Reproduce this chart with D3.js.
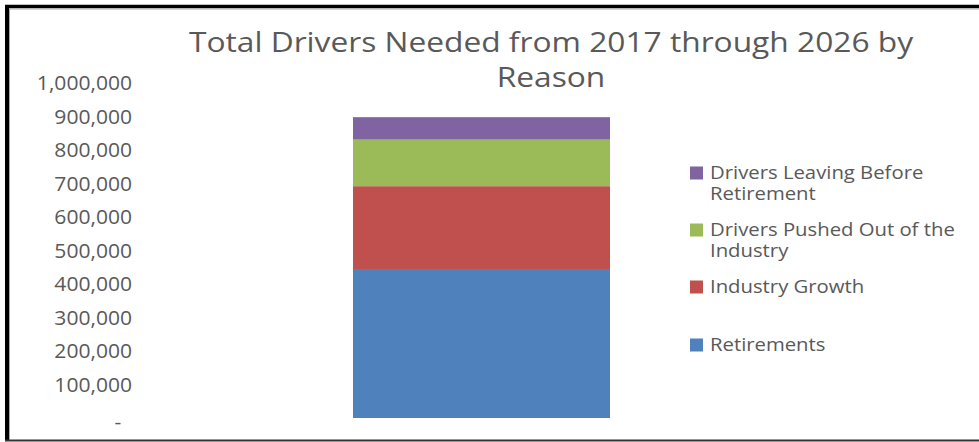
<!DOCTYPE html>
<html>
<head>
<meta charset="utf-8">
<script src="https://cdn.jsdelivr.net/npm/d3@7"></script>
<style>
  html, body { margin: 0; padding: 0; background: #fff; }
  svg { display: block; }
  text { font-family: "Open Sans", sans-serif; fill: #595959; }
</style>
</head>
<body>
<div id="chart"></div>
<script>
// Данные графика
const categories = ["2017-2026"];
const seriesNames = ["Retirements", "Industry Growth", "Drivers Pushed Out of the Industry", "Drivers Leaving Before Retirement"];
const seriesValues = [442000, 250000, 139000, 67000];
const seriesColors = ["#4f81bd", "#c0504d", "#9bbb59", "#8064a2"];
const yTicks = [0, 100000, 200000, 300000, 400000, 500000, 600000, 700000, 800000, 900000, 1000000];
const titleLines = ["Total Drivers Needed from 2017 through 2026 by", "Reason"];
// Подписи легенды, разбитые на строки
const legendLines = [
    ["Retirements"],
    ["Industry Growth"],
    ["Drivers Pushed Out of the", "Industry"],
    ["Drivers Leaving Before", "Retirement"]
];

const width = 979;
const height = 442;

const svg = d3.select("#chart").append("svg")
    .attr("width", width)
    .attr("height", height);

//Рамка
svg.append("rect").attr("x", 0).attr("y", 0).attr("width", width).attr("height", height).attr("fill", "#fff");
svg.append("line").attr("x1", 5).attr("x2", width).attr("y1", 6.5).attr("y2", 6.5)
    .attr("stroke", "#000").attr("stroke-width", 3.5);
svg.append("line").attr("x1", 5).attr("x2", width).attr("y1", 9).attr("y2", 9)
    .attr("stroke", "#aaa").attr("stroke-width", 1);
svg.append("line").attr("x1", 7).attr("x2", 7).attr("y1", 5).attr("y2", 441)
    .attr("stroke", "#000").attr("stroke-width", 4);
svg.append("line").attr("x1", 9.5).attr("x2", 9.5).attr("y1", 9).attr("y2", 440)
    .attr("stroke", "#aaa").attr("stroke-width", 1);
svg.append("line").attr("x1", 5).attr("x2", width).attr("y1", 440.5).attr("y2", 440.5)
    .attr("stroke", "#333").attr("stroke-width", 2);

//Оси
const y = d3.scaleLinear().domain([0, 1000000]).range([418, 83]);
const x = d3.scaleBand().domain(categories).range([353, 610]).padding(0);

const fmt = d3.format(",");
const yAxis = svg.append("g")
    .attr("transform", "translate(132,0)")
    .call(d3.axisLeft(y).tickValues(yTicks).tickSize(0).tickPadding(0)
        .tickFormat(d => d === 0 ? "-" : fmt(d)));
yAxis.select(".domain").remove();
//Картинка растянута по горизонтали, поэтому текст тоже растягиваем
yAxis.selectAll("text")
    .attr("font-size", 19.5)
    .attr("font-family", null)
    .attr("fill", "#595959")
    .attr("dy", "0.35em")
    .attr("transform", "scale(1.08,1)");
yAxis.selectAll(".tick").filter(d => d === 0).select("text")
    .attr("dx", -10).attr("dy", "0.55em");

//Стек
const stackData = [{ cat: categories[0] }];
seriesNames.forEach((s, i) => stackData[0][s] = seriesValues[i]);
const stacked = d3.stack().keys(seriesNames)(stackData);

svg.append("g").selectAll("rect")
    .data(stacked)
    .join("rect")
    .attr("x", d => x(d[0].data.cat))
    .attr("width", x.bandwidth())
    .attr("y", d => y(d[0][1]))
    .attr("height", d => y(d[0][0]) - y(d[0][1]))
    .attr("fill", (d, i) => seriesColors[i]);

//Заголовок
svg.append("g")
    .attr("transform", "translate(551,52) scale(1.175,1)")
    .append("text")
    .attr("text-anchor", "middle")
    .attr("font-size", 27)
    .selectAll("tspan")
    .data(titleLines)
    .join("tspan")
    .attr("x", 0)
    .attr("y", (d, i) => i * 35)
    .text(d => d);

//Легенда
const legendY = [345, 287, 230, 173];
const legend = svg.append("g").selectAll("g")
    .data(seriesNames)
    .join("g")
    .attr("transform", (d, i) => `translate(690,${legendY[i]})`);
legend.append("rect")
    .attr("x", 0).attr("y", -6.5)
    .attr("width", 13).attr("height", 13)
    .attr("fill", (d, i) => seriesColors[i]);
legend.append("text")
    .attr("font-size", 17.5)
    .attr("transform", "translate(20,0) scale(1.16,1)")
    .selectAll("tspan")
    .data((d, i) => legendLines[i])
    .join("tspan")
    .attr("x", 0)
    .attr("y", (d, i) => i * 21)
    .attr("dy", "0.35em")
    .text(d => d);
</script>
</body>
</html>
